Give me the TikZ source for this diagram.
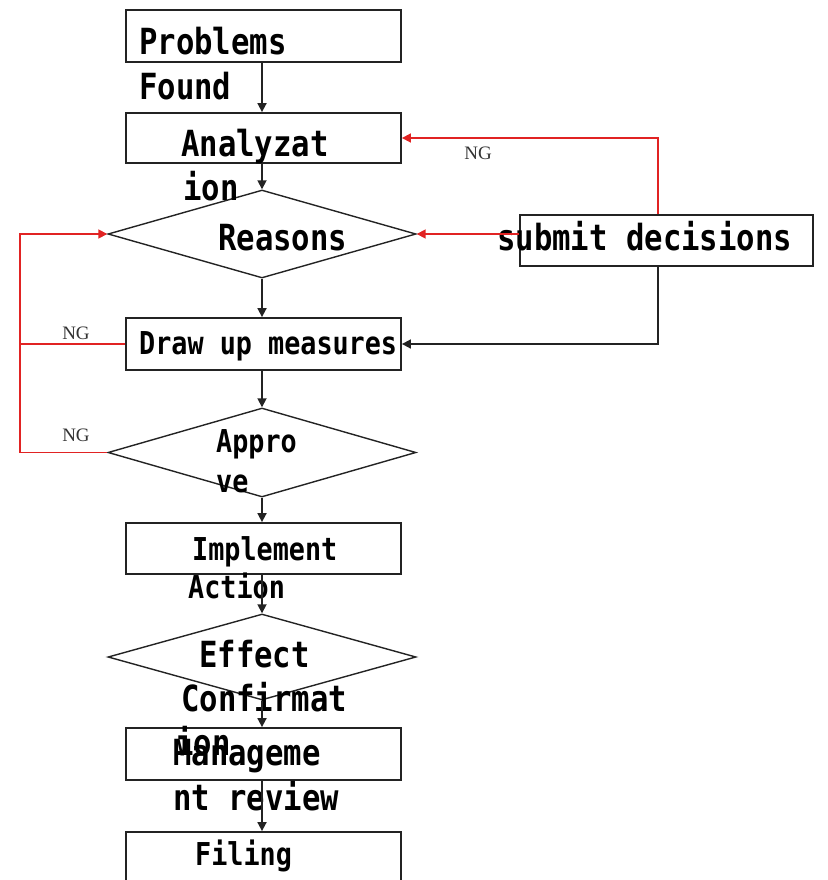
\documentclass[tikz,border=0pt]{standalone}
\usepackage{fontspec}
\usetikzlibrary{shapes.geometric,arrows.meta}
\newfontfamily\monofam[FakeStretch=0.85]{DejaVu Sans Mono}
\newfontfamily\ngfam{Liberation Serif}
\definecolor{ngred}{RGB}{225,35,35}
\definecolor{lineblk}{RGB}{35,35,35}
\tikzset{
  boxnode/.style={draw=lineblk,line width=1.8pt,rectangle,minimum width=275pt,minimum height=52pt,inner sep=0pt},
  dianode/.style={draw=lineblk,line width=1.4pt,diamond,minimum width=308pt,minimum height=88pt,inner sep=0pt},
  bigtxt/.style={anchor=base west,inner sep=0pt,font=\monofam\bfseries\fontsize{36}{44}\selectfont},
  smalltxt/.style={anchor=base west,inner sep=0pt,font=\monofam\bfseries\fontsize{31.5}{39}\selectfont},
  ngtxt/.style={inner sep=0pt,text=black!80,font=\ngfam\fontsize{19}{22}\selectfont},
  blkarrow/.style={draw=lineblk,line width=1.7pt,-{Triangle[length=9pt,width=9pt]}},
  redarrow/.style={draw=ngred,line width=1.7pt,-{Triangle[length=9pt,width=9pt]}},
  redline/.style={draw=ngred,line width=1.7pt}
}
\begin{document}
\begin{tikzpicture}[x=1pt,y=-1pt]
\useasboundingbox (0,0) rectangle (827,880);
\clip (0,0) rectangle (827,880);
% shapes
\node[boxnode] (prob) at (263.5,36) {};
\node[boxnode,minimum height=50pt] (anal) at (263.5,138) {};
\node[dianode] (reas) at (262,234) {};
\node[boxnode,minimum width=293pt,minimum height=51pt] (subm) at (666.5,240.5) {};
\node[boxnode] (draw) at (263.5,344) {};
\node[dianode,minimum height=89pt] (appr) at (262,452.5) {};
\node[boxnode,minimum height=51pt] (impl) at (263.5,548.5) {};
\node[dianode,minimum height=86pt] (effc) at (262,657) {};
\node[boxnode] (mgmt) at (263.5,754) {};
\node[boxnode] (fili) at (263.5,858) {};
% texts
\node[bigtxt] (t1a) at (139,55) {Problems};
\node[bigtxt] (t1b) at (139,100) {Found};
\node[bigtxt] (t2a) at (181,157) {Analyzat};
\node[bigtxt] (t2b) at (183,200) {ion};
\node[bigtxt] (t3) at (218,250) {Reasons};
\node[bigtxt] (t4) at (497,250) {submit decisions};
\node[smalltxt] (t5) at (139,354) {Draw up measures};
\node[smalltxt] (t6a) at (216,452) {Appro};
\node[smalltxt] (t6b) at (216,492) {ve};
\node[smalltxt] (t7a) at (192,560) {Implement};
\node[smalltxt] (t7b) at (188,598) {Action};
\node[bigtxt] (t8a) at (199,667) {Effect};
\node[bigtxt] (t8b) at (181,711) {Confirmat};
\node[bigtxt] (t8c) at (175,755) {ion};
\node[bigtxt] (t9a) at (173,765) {Manageme};
\node[bigtxt] (t9b) at (173,810) {nt review};
\node[smalltxt] (t10) at (195,865) {Filing};
% NG labels
\node[ngtxt] (ng1) at (478,153) {NG};
\node[ngtxt] (ng2) at (76,333) {NG};
\node[ngtxt] (ng3) at (76,435) {NG};
% main flow
\draw[blkarrow] (prob.south -| 262,0) -- (anal.north -| 262,0);
\draw[blkarrow] (anal.south -| reas.north) -- (reas.north);
\draw[blkarrow] (reas.south) -- (draw.north -| reas.south);
\draw[blkarrow] (draw.south -| appr.north) -- (appr.north);
\draw[blkarrow] (appr.south) -- (impl.north -| appr.south);
\draw[blkarrow] (impl.south -| effc.north) -- (effc.north);
\draw[blkarrow] (effc.south) -- (mgmt.north -| effc.south);
\draw[blkarrow] (mgmt.south -| effc.south) -- (fili.north -| effc.south);
% submit decisions loops
\coordinate (sx) at (658,0);
\draw[redarrow] (subm.north -| sx) |- (anal.east);
\draw[redarrow] (subm.west |- reas.east) -- (reas.east);
\draw[blkarrow] (subm.south -| sx) |- (draw.east);
% left NG loop
\coordinate (la) at (20,452.5);
\coordinate (lb) at (20,234);
\draw[redarrow] (appr.west) -- (la) -- (lb) -- (reas.west);
\draw[redline] (draw.west) -- (draw.west -| la);
\end{tikzpicture}
\end{document}
